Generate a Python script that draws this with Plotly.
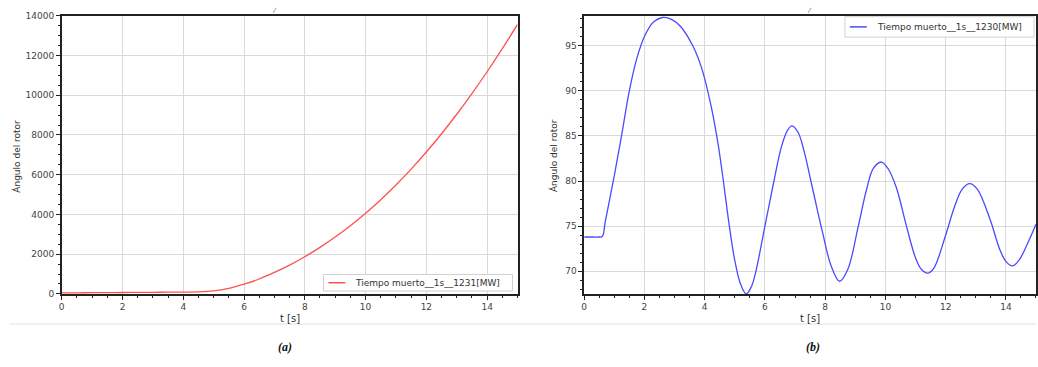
import plotly.graph_objects as go

# ---- data ----
t_a = [0, 0.5, 1, 1.5, 2, 2.5, 3, 3.5, 4, 4.5, 5, 5.5, 6, 6.5, 7, 7.5, 8, 8.5, 9, 9.5,
       10, 10.5, 11, 11.5, 12, 12.5, 13, 13.5, 14, 14.5, 15]
ang_a = [50, 55, 60, 65, 70, 75, 80, 85, 90, 100, 150, 280, 490, 750, 1080, 1450, 1870,
         2340, 2860, 3430, 4060, 4740, 5480, 6280, 7140, 8060, 9040, 10080, 11180, 12340, 13560]

t_b = [0, 0.3, 0.5, 0.6, 0.7, 0.8, 0.9, 1.0, 1.12, 1.25, 1.5, 1.75, 2.0, 2.3, 2.6, 2.9, 3.2, 3.6, 3.9, 4.2,
       4.45, 4.6, 4.82, 5.0, 5.2, 5.38, 5.55, 5.7, 6.0, 6.3, 6.55, 6.75, 6.9, 7.1, 7.3,
       7.56, 7.9, 8.2, 8.48, 8.75, 9.1, 9.37, 9.6, 9.87, 10.1, 10.36, 10.7, 11.0, 11.2,
       11.4, 11.6, 12.0, 12.3, 12.55, 12.8, 13.05, 13.47, 13.8, 14.0, 14.22, 14.45, 14.75, 15.0]
ang_b = [73.8, 73.8, 73.8, 73.85, 75.5, 77.2, 78.9, 80.6, 82.8, 85.2, 90.0, 93.6, 96.0, 97.6, 98.1, 97.9, 97.1, 95.0,
         92.5, 88.5, 84.0, 80.5, 75.0, 71.2, 68.5, 67.5, 68.3, 70.0, 75.0, 80.0, 83.8, 85.6,
         86.1, 85.4, 83.3, 79.5, 74.5, 70.6, 68.9, 70.2, 75.0, 79.0, 81.4, 82.1, 81.3, 79.3,
         75.0, 71.5, 70.2, 69.8, 70.3, 74.0, 77.2, 79.1, 79.7, 79.1, 75.8, 72.4, 71.1, 70.6,
         71.3, 73.3, 75.2]

name_a = "Tiempo muerto__1s__1231[MW]"
name_b = "Tiempo muerto__1s__1230[MW]"
ylabel = "Ángulo del rotor"
xlabel = "t [s]"

W, H = 1038, 367
FONT = "DejaVu Sans"

fig = go.Figure()
fig.add_trace(go.Scatter(x=t_a, y=ang_a, mode="lines", name=name_a,
                         line=dict(color="#ff5050", width=1.3, shape="spline", smoothing=1.0),
                         xaxis="x", yaxis="y", showlegend=False))
fig.add_trace(go.Scatter(x=t_b, y=ang_b, mode="lines", name=name_b,
                         line=dict(color="#4a4aff", width=1.3, shape="spline", smoothing=1.0),
                         xaxis="x2", yaxis="y2", showlegend=False))

def px_x(p):
    return p / W

def px_y(p):
    return 1 - p / H

ydom = [px_y(297), px_y(11)]
axis_common = dict(showline=True, linecolor="#222", linewidth=1.5, mirror=True, ticks="outside", ticklen=4,
                   tickcolor="#222", showgrid=True, gridcolor="#d9d9d9", gridwidth=1, zeroline=False,
                   tickfont=dict(family=FONT, size=9, color="#444"))

fig.update_layout(
    width=W, height=H, margin=dict(l=0, r=0, t=0, b=0),
    paper_bgcolor="white", plot_bgcolor="white", showlegend=False,
    xaxis=dict(domain=[px_x(59), px_x(517)], range=[0, 15], dtick=2, anchor="y",
               minor=dict(dtick=0.5, ticks="outside", ticklen=2, tickcolor="#222", showgrid=False), **axis_common),
    yaxis=dict(domain=ydom, range=[0, 14000], dtick=2000, anchor="x", tickformat="d",
               minor=dict(dtick=500, ticks="outside", ticklen=2, tickcolor="#222", showgrid=False), **axis_common),
    xaxis2=dict(domain=[px_x(584), 1.0], range=[0, 15], dtick=2, anchor="y2",
                minor=dict(dtick=0.5, ticks="outside", ticklen=2, tickcolor="#222", showgrid=False), **axis_common),
    yaxis2=dict(domain=ydom, range=[67.5, 98.3], dtick=5, anchor="x2",
                minor=dict(dtick=1, ticks="outside", ticklen=2, tickcolor="#222", showgrid=False), **axis_common),
)

shapes = []
anns = []
# separator line
shapes.append(dict(type="line", xref="paper", yref="paper", x0=px_x(6), x1=1, y0=px_y(328), y1=px_y(328),
                   line=dict(color="#e3e3e3", width=1)))

# legends drawn manually
def legend(x0, x1, y0, y1, color, text):
    shapes.append(dict(type="rect", xref="paper", yref="paper", x0=px_x(x0), x1=px_x(x1), y0=px_y(y1), y1=px_y(y0),
                       line=dict(color="#d0d0d0", width=1), fillcolor="rgba(255,255,255,0.9)"))
    ym = (y0 + y1) / 2
    shapes.append(dict(type="line", xref="paper", yref="paper", x0=px_x(x0 + 5), x1=px_x(x0 + 22), y0=px_y(ym), y1=px_y(ym),
                       line=dict(color=color, width=1.5)))
    anns.append(dict(xref="paper", yref="paper", x=px_x(x0 + 30), y=px_y(ym), text=text, showarrow=False,
                     xanchor="left", yanchor="middle", font=dict(family=FONT, size=9, color="#333")))

legend(322, 512, 277, 294, "#ff5050", name_a)
legend(846, 1036, 12, 33, "#4a4aff", name_b)

# axis titles
for xc in (14, 553):
    anns.append(dict(xref="paper", yref="paper", x=px_x(xc), y=px_y(155), text=ylabel, textangle=-90, showarrow=False,
                     xanchor="center", yanchor="middle", font=dict(family=FONT, size=9, color="#333")))
for xc in (288, 811):
    anns.append(dict(xref="paper", yref="paper", x=px_x(xc), y=px_y(322), text=xlabel, showarrow=False,
                     xanchor="center", yanchor="middle", font=dict(family=FONT, size=10, color="#333")))

# captions
for xc, lab in ((283, "(a)"), (814, "(b)")):
    anns.append(dict(xref="paper", yref="paper", x=px_x(xc), y=px_y(352), text="<b><i>" + lab + "</i></b>",
                     showarrow=False, xanchor="center", yanchor="middle",
                     font=dict(family="Liberation Serif", size=12, color="#111")))

# small marks at top
for xc in (273, 810):
    anns.append(dict(xref="paper", yref="paper", x=px_x(xc), y=px_y(6), text="⁄", showarrow=False,
                     xanchor="center", yanchor="middle", font=dict(family=FONT, size=7, color="#555")))

fig.update_layout(shapes=shapes, annotations=anns)
fig.write_html("out.html", config={"displayModeBar": False},
               post_script="document.body.style.margin='0';document.body.style.overflow='hidden';")
